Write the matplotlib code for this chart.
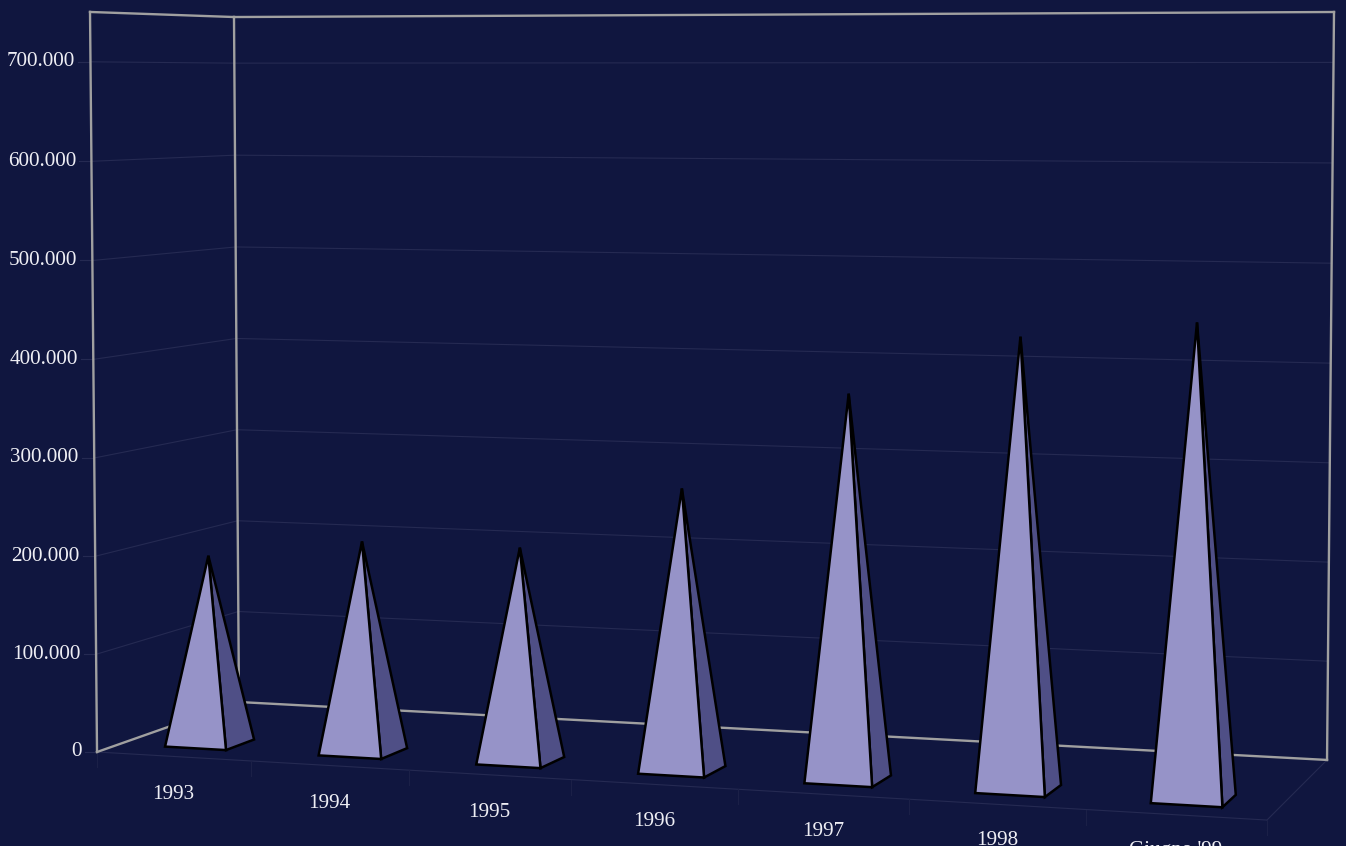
#!/usr/bin/env python3
# -*- coding: utf-8 -*-

import numpy as np
import matplotlib
matplotlib.use("Agg")
import matplotlib.pyplot as plt
from matplotlib.patches import Polygon

categories = ["1993", "1994", "1995", "1996", "1997", "1998", "Giugno '99"]
values = [194000, 215000, 215000, 280000, 378000, 437000, 454000]
y_ticks = [0, 100000, 200000, 300000, 400000, 500000, 600000, 700000]
y_tick_labels = ["0", "100.000", "200.000", "300.000", "400.000", "500.000", "600.000", "700.000"]
y_max = 750000

BG = "#10163f"
FRONT = "#9693c8"
SIDE = "#4f4f86"
FRAME = "#a0a0a0"
GRID = "#252a52"
TICK = "#1b2047"
TEXT = "#eeeef4"

# camera fitted on the corners of the chart box: (x, depth, height) -> pixel
box_3d = [(0, 0, 0), (1, 0, 0), (0, 1, 0), (1, 1, 0), (0, 0, 1), (0, 1, 1), (1, 1, 1)]
box_px = [(97, 752), (1267, 820), (239, 702), (1327, 760), (90, 12), (234, 17), (1334, 12)]


def fit_camera():
    A, b = [], []
    for (x, d, z), (u, v) in zip(box_3d, box_px):
        A.append([x, d, z, 1, 0, 0, 0, 0, -u * x, -u * d, -u * z])
        A.append([0, 0, 0, 0, x, d, z, 1, -v * x, -v * d, -v * z])
        b += [u, v]
    p = np.linalg.lstsq(np.array(A, float), np.array(b, float), rcond=None)[0]
    return np.append(p, 1).reshape(3, 4)


P = fit_camera()
n = len(categories)


def project(cat, depth, value):
    # cat is in category units, value in data units
    h = P @ np.array([cat / n, depth, value / y_max, 1.0])
    return h[0] / h[2], h[1] / h[2]


fig = plt.figure(figsize=(13.46, 8.46), dpi=100, facecolor=BG)
ax = fig.add_axes([0, 0, 1, 1])
ax.set_xlim(0, 1346)
ax.set_ylim(846, 0)
ax.axis("off")
plt.rcParams["font.family"] = ["Liberation Serif", "DejaVu Serif"]


def seg(a, b, color, lw, z=1):
    ax.plot([a[0], b[0]], [a[1], b[1]], color=color, lw=lw, zorder=z, solid_capstyle="projecting")


# gridlines on the two walls, with tick marks
for v, lab in zip(y_ticks, y_tick_labels):
    p0, p1, p2 = project(0, 0, v), project(0, 1, v), project(n, 1, v)
    if v > 0:
        seg(p0, p1, GRID, 0.8)
        seg(p1, p2, GRID, 0.8)
    seg((p0[0] - 12, p0[1]), p0, GRID, 0.8)
    ax.text(p0[0] - 15.5, p0[1], lab, color=TEXT, fontsize=15.2, ha="right", va="center")

# floor front and right edges
seg(project(0, 0, 0), project(n, 0, 0), GRID, 0.8)
seg(project(n, 0, 0), project(n, 1, 0), GRID, 0.8)
for i in range(n + 1):
    a = project(i, 0, 0)
    seg(a, (a[0], a[1] + 15), TICK, 0.8)

# box frame
frame = [((0, 0, 0), (0, 1, 0)), ((0, 1, 0), (n, 1, 0)), ((n, 1, 0), (n, 1, y_max)),
         ((0, 0, 0), (0, 0, y_max)), ((0, 1, 0), (0, 1, y_max)),
         ((0, 0, y_max), (0, 1, y_max)), ((0, 1, y_max), (n, 1, y_max))]
for a, b in frame:
    seg(project(*a), project(*b), FRAME, 1.7, 2)

# pyramids
for i, (cat, v) in enumerate(zip(categories, values)):
    c = i + 0.5
    fl = project(c - 0.2, 0.15, 0)
    fr = project(c + 0.2, 0.15, 0)
    br = project(c + 0.2, 0.35, 0)
    apex = project(c, 0.25, v)
    ax.add_patch(Polygon([fr, br, apex], closed=True, fc=SIDE, ec="black", lw=1.8, joinstyle="miter", zorder=3))
    ax.add_patch(Polygon([fl, fr, apex], closed=True, fc=FRONT, ec="black", lw=1.8, joinstyle="miter", zorder=4))
    lx, ly = project(c, 0, 0)
    ax.text(lx, ly + 38 - 0.3 * i, cat, color=TEXT, fontsize=15.2, ha="center", va="center")

fig.savefig("out.png", dpi=100, facecolor=BG)
plt.close(fig)
